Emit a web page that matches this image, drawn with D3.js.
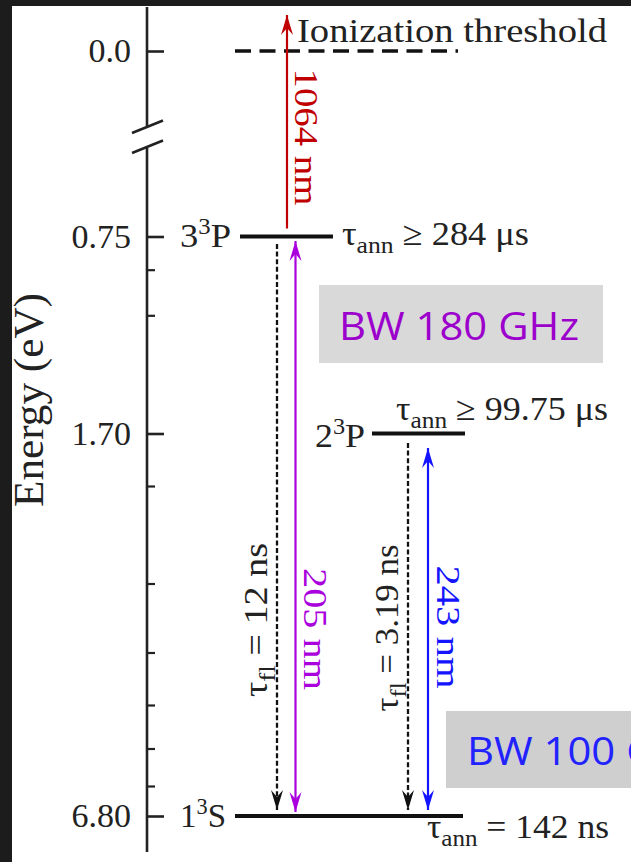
<!DOCTYPE html>
<html>
<head>
<meta charset="utf-8">
<script src="https://cdn.jsdelivr.net/npm/d3@7"></script>
<style>
  html, body { margin: 0; padding: 0; background: #1c1c1c; }
  svg { display: block; }
</style>
</head>
<body>
<script>
// Positronium triplet levels with excitation / ionization scheme
const energyTicks = [0, 0.75, 1.70, 6.80];           // eV (binding energy)
const energyTickLabels = ["0.0", "0.75", "1.70", "6.80"];
const energyMinorTicks = [0.91, 1.13, 2.40, 3.70, 4.62, 5.32, 5.90, 6.40];

const stateN = [1, 2, 3];
const stateL = ["S", "P", "P"];
const stateEnergy = [6.80, 1.70, 0.75];
const annRelation = ["=", "≥", "≥"];
const annLifetime = ["142 ns", "99.75 μs", "284 μs"];

const ionizationEnergy = 0.0;
const laserWavelengths = [1064, 205, 243];           // nm
const fluorLifetimes = [12, 3.19];                   // ns (3³P, 2³P)
const bandwidthsGHz = [180, 100];                    // 205 nm, 243 nm

const W = 631, H = 862;
const serif = "'Liberation Serif', 'Times New Roman', serif";
const sans = "'Open Sans', 'Noto Sans', sans-serif";
const red = "#c00000", purple = "#aa00dd", blue = "#1414ff";

const svg = d3.select("body").append("svg").attr("width", W).attr("height", H);
svg.append("rect").attr("width", W).attr("height", H).attr("fill", "#1c1c1c");
svg.append("rect").attr("x", 12).attr("y", 6).attr("width", W - 12).attr("height", H - 6).attr("fill", "#ffffff");

// Broken, schematic energy axis
const y = d3.scaleLinear().domain([0, 0.75, 1.70, 6.80]).range([51, 236.5, 433.5, 816]);
const axisX = 147;

const defs = svg.append("defs");
function head(id, color) {
  defs.append("marker").attr("id", id)
    .attr("viewBox", "-21 -7 22 14").attr("refX", 0).attr("refY", 0)
    .attr("markerWidth", 22).attr("markerHeight", 14)
    .attr("markerUnits", "userSpaceOnUse").attr("orient", "auto-start-reverse")
    .append("path").attr("d", "M0,0 L-20,-6 L-13,0 L-20,6 Z").attr("fill", color);
}
head("h-red", red); head("h-purple", purple); head("h-blue", blue); head("h-black", "#111");

// axis line with break marks
const ax = svg.append("g").attr("stroke", "#222").attr("stroke-width", 2.6).attr("fill", "none");
ax.append("line").attr("x1", axisX).attr("x2", axisX).attr("y1", 7).attr("y2", 126);
ax.append("line").attr("x1", axisX).attr("x2", axisX).attr("y1", 148).attr("y2", 852);
ax.append("line").attr("x1", 132).attr("y1", 133).attr("x2", 163).attr("y2", 120.5);
ax.append("line").attr("x1", 132).attr("y1", 153).attr("x2", 163).attr("y2", 140.5);

const major = svg.append("g").attr("transform", `translate(${axisX},0)`)
  .call(d3.axisLeft(y).tickValues(energyTicks)
    .tickFormat((d, i) => energyTickLabels[i])
    .tickSizeInner(-17).tickSizeOuter(0).tickPadding(16));
major.select(".domain").remove();
major.selectAll(".tick line").attr("stroke", "#222").attr("stroke-width", 2.6);
major.selectAll(".tick text").attr("fill", "#222").style("font-family", serif).style("font-size", "34px");

const minor = svg.append("g").attr("transform", `translate(${axisX},0)`)
  .call(d3.axisLeft(y).tickValues(energyMinorTicks).tickFormat("")
    .tickSizeInner(-8).tickSizeOuter(0));
minor.select(".domain").remove();
minor.selectAll(".tick line").attr("stroke", "#222").attr("stroke-width", 2.2);

svg.append("text").attr("transform", `translate(43,400) rotate(-90)`)
  .attr("text-anchor", "middle").attr("fill", "#222")
  .style("font-family", serif).style("font-size", "42px")
  .attr("textLength", 214).attr("lengthAdjust", "spacingAndGlyphs")
  .text("Energy (eV)");

// Ionization threshold
svg.append("line").attr("x1", 235).attr("x2", 458)
  .attr("y1", y(ionizationEnergy)).attr("y2", y(ionizationEnergy))
  .attr("stroke", "#111").attr("stroke-width", 3.6).attr("stroke-dasharray", "16,8.5");
svg.append("text").attr("x", 297).attr("y", 42).attr("fill", "#222")
  .style("font-family", serif).style("font-size", "34px")
  .attr("textLength", 310).attr("lengthAdjust", "spacingAndGlyphs")
  .text("Ionization threshold");

// Energy levels
const levelX = [[235, 463], [372, 465], [240, 333]];
svg.append("g").selectAll("line").data(stateEnergy).join("line")
  .attr("x1", (d, i) => levelX[i][0]).attr("x2", (d, i) => levelX[i][1])
  .attr("y1", d => y(d)).attr("y2", d => y(d))
  .attr("stroke", "#111").attr("stroke-width", 3.8);

// state labels n³L
const stateLabelPos = [[180, 827, 46], [315, 447, 50], [180, 247, 51]];
stateN.forEach((n, i) => {
  const [x, by, len] = stateLabelPos[i];
  const t = svg.append("text").attr("x", x).attr("y", by).attr("fill", "#222")
    .style("font-family", serif).style("font-size", "34px")
    .attr("textLength", len).attr("lengthAdjust", "spacingAndGlyphs");
  t.append("tspan").text(n);
  t.append("tspan").attr("dy", -13).style("font-size", "23px").text("3");
  t.append("tspan").attr("dy", 13).text(stateL[i]);
});

// annihilation lifetimes
const annPos = [[427, 838, 182], [396, 420, 212], [342, 245, 187]];
annLifetime.forEach((v, i) => {
  const [x, by, len] = annPos[i];
  const t = svg.append("text").attr("x", x).attr("y", by).attr("fill", "#222")
    .style("font-family", serif).style("font-size", "34px")
    .attr("textLength", len).attr("lengthAdjust", "spacingAndGlyphs");
  t.append("tspan").text("τ");
  t.append("tspan").attr("dy", 8).style("font-size", "24px").text("ann");
  t.append("tspan").attr("dy", -8).text(` ${annRelation[i]} ${v}`);
});

// vertical arrows
function arrow(x, y1, y2, color, markerId, both, dashed) {
  const l = svg.append("line").attr("x1", x).attr("x2", x).attr("y1", y1).attr("y2", y2)
    .attr("stroke", color).attr("stroke-width", dashed ? 2.3 : 2.2)
    .attr("marker-end", `url(#${markerId})`);
  if (both) l.attr("marker-start", `url(#${markerId})`);
  if (dashed) l.attr("stroke-dasharray", "5,2.6");
}
function vlabel(x, cy, angle, len, color, parts) {
  const t = svg.append("text").attr("transform", `translate(${x},${cy}) rotate(${angle})`)
    .attr("text-anchor", "middle").attr("fill", color)
    .style("font-family", serif).style("font-size", "34px")
    .attr("textLength", len).attr("lengthAdjust", "spacingAndGlyphs");
  parts(t);
}

// 1064 nm photoionization from 3³P
arrow(287, y(0.75) - 8, y(ionizationEnergy) - 36, red, "h-red", false, false);
vlabel(295, 137, 90, 137, red, t => t.text(`${laserWavelengths[0]} nm`));

// 205 nm: 1³S ↔ 3³P
arrow(295.5, y(6.80) - 4, y(0.75) + 4.5, purple, "h-purple", true, false);
vlabel(304, 629, 90, 122, purple, t => t.text(`${laserWavelengths[1]} nm`));

// 243 nm: 1³S ↔ 2³P
arrow(428, y(6.80) - 6, y(1.70) + 14.5, blue, "h-blue", true, false);
vlabel(437, 627, 90, 123, blue, t => t.text(`${laserWavelengths[2]} nm`));

// fluorescence decays
arrow(277, y(0.75) + 7.5, y(6.80) - 6, "#111", "h-black", false, true);
vlabel(267, 620, -90, 154, "#222", t => {
  t.append("tspan").text("τ");
  t.append("tspan").attr("dy", 8).style("font-size", "24px").text("fl");
  t.append("tspan").attr("dy", -8).text(` = ${fluorLifetimes[0]} ns`);
});
arrow(408, y(1.70) + 9.5, y(6.80) - 6, "#111", "h-black", false, true);
vlabel(398, 628, -90, 167, "#222", t => {
  t.append("tspan").text("τ");
  t.append("tspan").attr("dy", 8).style("font-size", "24px").text("fl");
  t.append("tspan").attr("dy", -8).text(` = ${fluorLifetimes[1]} ns`);
});

// laser bandwidth boxes
svg.append("rect").attr("x", 319).attr("y", 285).attr("width", 284).attr("height", 78).attr("fill", "#d9d9d9");
svg.append("text").attr("x", 339).attr("y", 340).attr("fill", "#9c00cc")
  .style("font-family", sans).style("font-size", "38px")
  .attr("textLength", 240).attr("lengthAdjust", "spacingAndGlyphs")
  .text(`BW ${bandwidthsGHz[0]} GHz`);
svg.append("rect").attr("x", 446).attr("y", 711).attr("width", 284).attr("height", 77).attr("fill", "#d0cfd0");
svg.append("text").attr("x", 467).attr("y", 765).attr("fill", "#2222ff")
  .style("font-family", sans).style("font-size", "38px")
  .attr("textLength", 240).attr("lengthAdjust", "spacingAndGlyphs")
  .text(`BW ${bandwidthsGHz[1]} GHz`);
</script>
</body>
</html>
